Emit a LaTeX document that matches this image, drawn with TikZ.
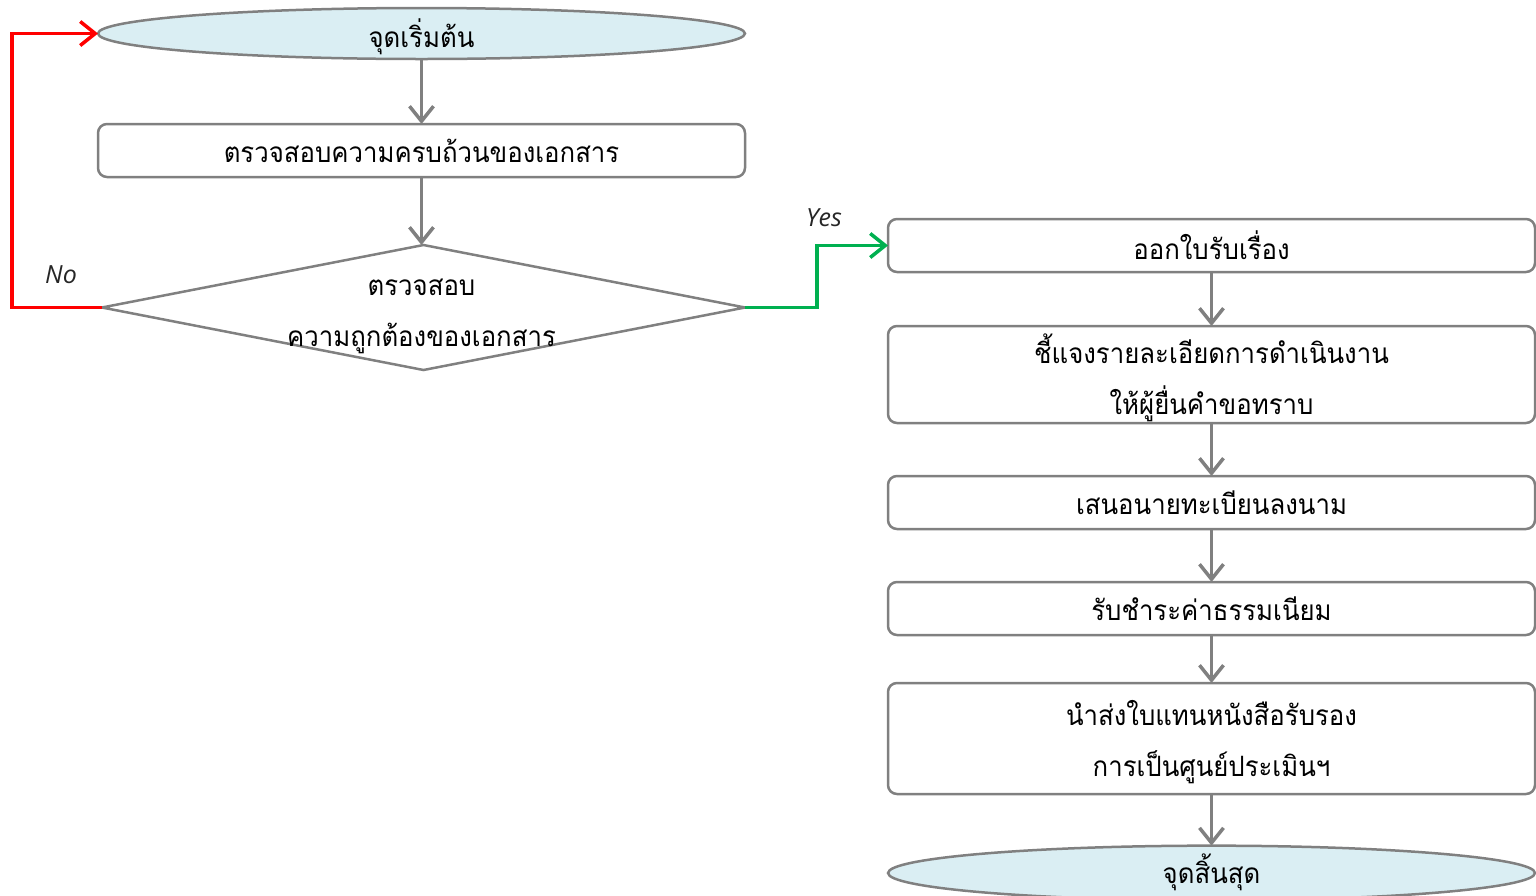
\documentclass[tikz,border=0pt]{standalone}
\usepackage{fontspec}
\usetikzlibrary{shapes.geometric,arrows.meta}
\newfontfamily\thaifont[Script=Thai,FakeStretch=0.92]{Loma}
\newfontfamily\latinfont{Open Sans}
\definecolor{lineg}{HTML}{808080}
\definecolor{fillb}{HTML}{DAEEF3}
\definecolor{redc}{HTML}{FF0000}
\definecolor{greenc}{HTML}{00B050}
\tikzset{
  txt/.style={font=\thaifont\fontsize{28}{51}\selectfont, text=black},
  term/.style={ellipse, draw=lineg, line width=2.5pt, fill=fillb, minimum width=647pt, minimum height=51pt, inner sep=0pt, outer sep=0pt, text depth=0pt, txt},
  procbox/.style={rectangle, rounded corners=9pt, draw=lineg, line width=2.5pt, minimum width=647pt, inner sep=0pt, outer sep=0pt, align=center, text depth=0pt, txt},
  decbox/.style={diamond, draw=lineg, line width=2.5pt, minimum width=643pt, minimum height=125pt, inner sep=0pt, outer sep=0pt},
  arr/.style={line width=3.5pt, draw=lineg, -{Straight Barb[length=15pt,width=24pt,line width=3.5pt]}},
  yesno/.style={font=\latinfont\itshape\fontsize{25}{30}\selectfont, text=black!85}
}
\begin{document}
\begin{tikzpicture}[x=1pt,y=-1pt]
\useasboundingbox (0,0) rectangle (1536,895);
% left column
\node[term] (start) at (421.5,33.5) {จุดเริ่มต้น};
\node[procbox, minimum height=53pt] (chk) at (421.5,150.5) {ตรวจสอบความครบถ้วนของเอกสาร};
\node[decbox] (dec) at (423.5,307.5) {};
\node[txt, align=center] (dectext) at (421.5,316) {ตรวจสอบ\\ความถูกต้องของเอกสาร};
% right column
\node[procbox, minimum height=53pt] (b2) at (1211.5,245.5) {ออกใบรับเรื่อง};
\node[procbox, minimum height=97pt] (b3) at (1211.5,374.5) {ชี้แจงรายละเอียดการดำเนินงาน\\ให้ผู้ยื่นคำขอทราบ};
\node[procbox, minimum height=53pt] (b4) at (1211.5,502.5) {เสนอนายทะเบียนลงนาม};
\node[procbox, minimum height=53pt] (b5) at (1211.5,608.5) {รับชำระค่าธรรมเนียม};
\node[procbox, minimum height=111pt] (b6) at (1211.5,738.5) {นำส่งใบแทนหนังสือรับรอง\\การเป็นศูนย์ประเมินฯ};
\node[term, text depth=9pt] (stop) at (1211.5,873) {จุดสิ้นสุด};
% connectors
\draw[arr] (start.south) -- (chk.north);
\draw[arr] (chk.south) -- (chk.south |- dec.north);
\draw[arr] (b2.south) -- (b3.north);
\draw[arr] (b3.south) -- (b4.north);
\draw[arr] (b4.south) -- (b5.north);
\draw[arr] (b5.south) -- (b6.north);
\draw[arr] (b6.south) -- (stop.north);
\draw[arr, draw=redc] (dec.west) -- ++(-90,0) coordinate (nocorner) |- (start.west);
\draw[arr, draw=greenc] (dec.east) -- ++(72,0) coordinate (yescorner) |- (b2.west);
\node[yesno] (nolabel) at (61,275) {No};
\node[yesno] (yeslabel) at (824,218) {Yes};
\end{tikzpicture}
\end{document}
